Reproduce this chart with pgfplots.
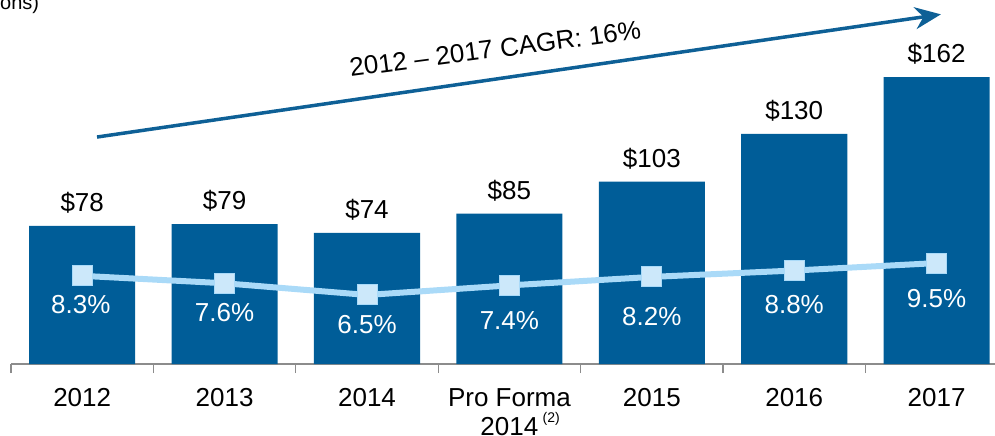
\documentclass[border=0pt]{standalone}
\usepackage{fontspec}
\setmainfont{Liberation Sans}
\usepackage{pgfplots}
\pgfplotsset{compat=1.18}
\usetikzlibrary{arrows.meta}

\definecolor{barblue}{RGB}{0,93,152}
\definecolor{arrowblue}{RGB}{14,96,150}
\definecolor{lineblue}{RGB}{170,218,248}
\definecolor{markblue}{RGB}{204,232,250}
\definecolor{axisgray}{RGB}{140,140,140}

\newcommand{\lbl}{\fontsize{26bp}{29bp}\selectfont}

\begin{document}
\begin{tikzpicture}
\begin{axis}[
  name=ax,
  scale only axis,
  width=984bp, height=364bp,
  xmin=-0.5, xmax=6.41,
  ymin=0, ymax=205.6,
  /pgf/number format/assume math mode=true,
  axis x line*=bottom, axis y line=none,
  axis line style={axisgray, line width=1.3bp},
  xtick={0,...,6},
  xticklabels={2012,2013,2014,{Pro Forma\\2014\rlap{\,\raisebox{0.95ex}{\fontsize{14bp}{14bp}\selectfont(2)}}},2015,2016,2017},
  minor xtick={-0.5,0.5,...,5.5},
  major tick length=0pt,
  minor tick length=9bp,
  tick align=outside,
  every tick/.style={axisgray, line width=1.3bp},
  xticklabel style={font=\lbl, align=center, yshift=-21bp},
  clip=false,
]
% revenue bars ($ millions)
\addplot[ybar, bar width=0.745, fill=barblue, draw=none,
  nodes near coords={\$\pgfmathprintnumber{\pgfplotspointmeta}},
  every node near coord/.style={font=\lbl, black, anchor=south, yshift=9bp}]
  coordinates {(0,78) (1,79) (2,74) (3,85) (4,103) (5,130) (6,162)};

% margin line, percent scaled by 6 to share the bar axis
\addplot[lineblue, line width=6bp, mark=square*, mark size=10bp,
  mark options={fill=markblue, draw=lineblue, line width=1bp}]
  coordinates {(0,49.8) (1,45.6) (2,39.0) (3,44.4) (4,49.2) (5,52.8) (6,57.0)};

% margin labels
\addplot[draw=none, mark=none, point meta=explicit,
  nodes near coords={\pgfmathprintnumber[fixed,precision=1,fixed zerofill]{\pgfplotspointmeta}\%},
  every node near coord/.style={font=\lbl, white, anchor=center}]
  coordinates {(-0.01,33.5)[8.3] (1,29.0)[7.6] (2,22.5)[6.5] (3,24.3)[7.4]
               (4,27.0)[8.2] (5,33.8)[8.8] (6,37.2)[9.5]};

\draw[arrowblue, line width=3.5bp, -{Stealth[length=26bp, width=22bp]}]
  (axis cs:0.104,128.2) -- (axis cs:6.03,197.5);
\node[font=\lbl, rotate=7.5] at (axis cs:2.90,178) {2012 – 2017 CAGR: 16\%};
\end{axis}
\node[anchor=base west, inner sep=0, font=\fontsize{20bp}{22bp}\selectfont]
  at ([shift={(-11bp,-10bp)}]ax.north west) {ons)};
\pgfresetboundingbox
\path[use as bounding box] ([shift={(-11bp,-72bp)}]ax.south west) rectangle (ax.north east);
\end{tikzpicture}
\end{document}
